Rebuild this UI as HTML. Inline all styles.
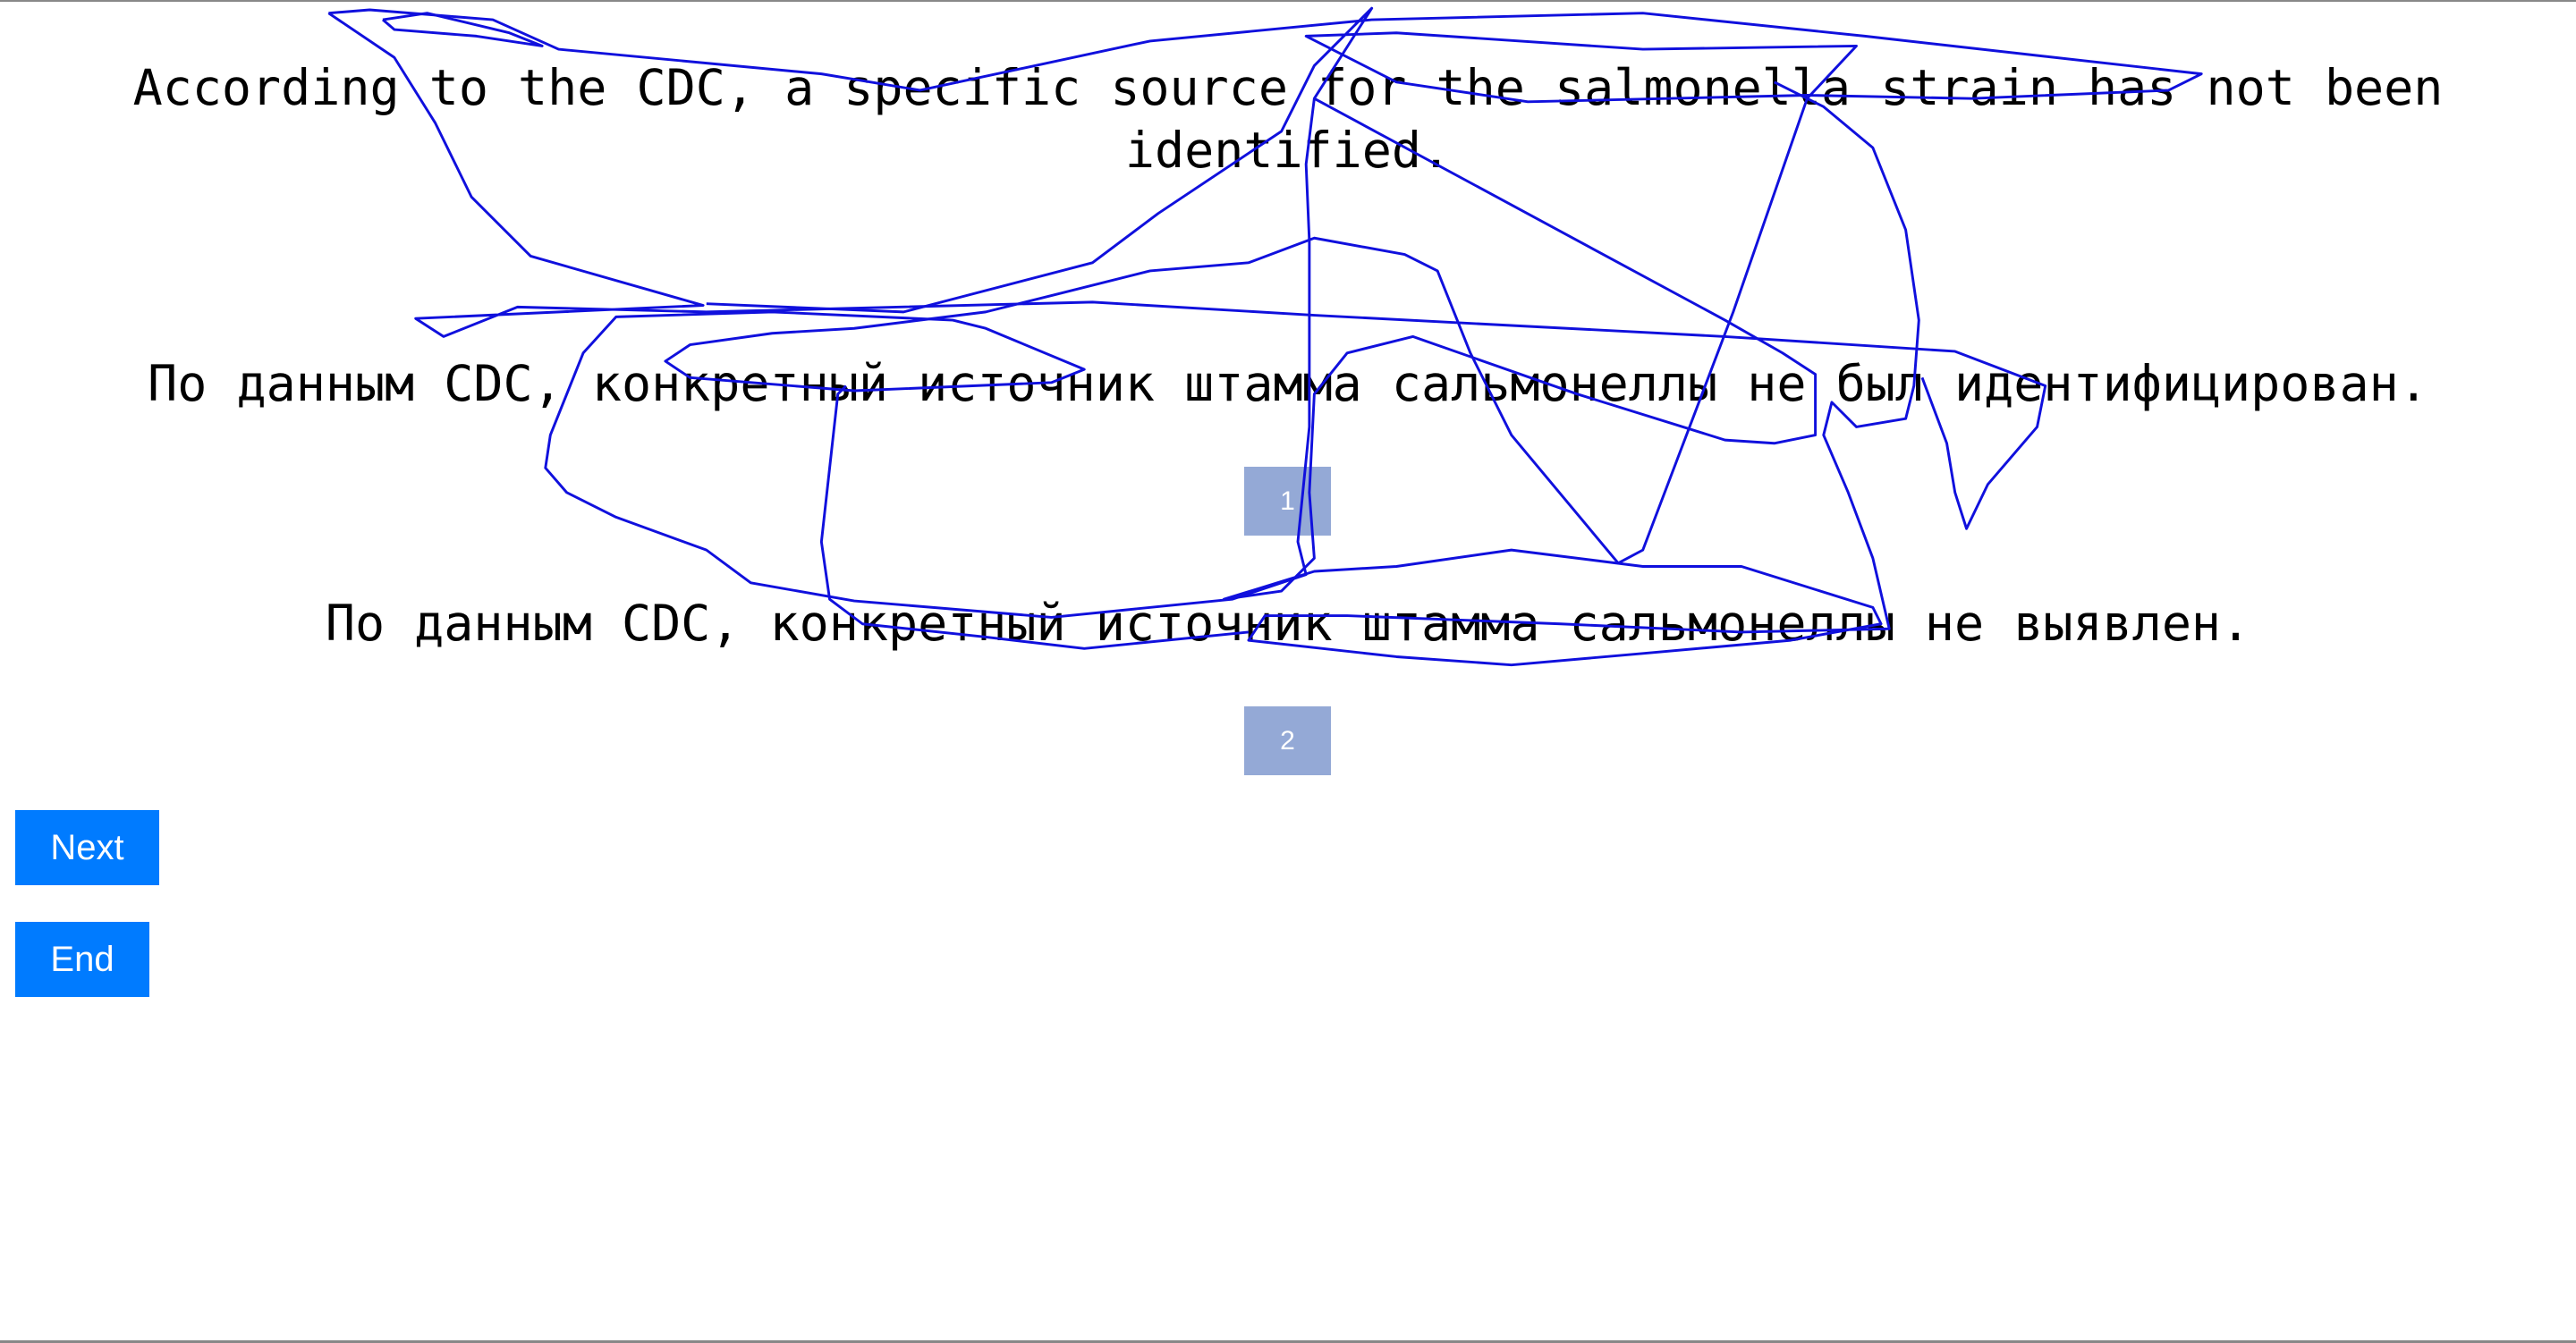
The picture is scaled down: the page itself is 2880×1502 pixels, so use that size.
<!DOCTYPE html>
<html><head><meta charset="utf-8"><style>
html,body{margin:0;padding:0;}
body{width:2880px;height:1502px;position:relative;background:#fff;overflow:hidden;font-family:"DejaVu Sans Mono","Liberation Mono",monospace;}
.t{position:absolute;left:0;width:2880px;text-align:center;font-size:55px;color:#000;line-height:70px;white-space:nowrap;}
.box{position:absolute;left:1391px;width:97px;height:77px;background:#94a9d6;color:#fff;font-family:"Liberation Sans",sans-serif;font-size:30px;display:flex;align-items:center;justify-content:center;}
.btn{position:absolute;left:17px;height:84px;background:#007bff;color:#fff;font-family:"Liberation Sans",sans-serif;font-size:40px;display:flex;align-items:center;justify-content:center;}
</style></head><body>
<div style="position:absolute;left:0;top:0;width:2880px;height:2px;background:#888"></div>
<div style="position:absolute;left:0;top:1499px;width:2880px;height:3px;background:#888"></div>
<div class="t" style="top:63px">According to the CDC, a specific source for the salmonella strain has not been</div>
<div class="t" style="top:133px">identified.</div>
<div class="t" style="top:394px">По данным CDC, конкретный источник штамма сальмонеллы не был идентифицирован.</div>
<div class="box" style="top:522px">1</div>
<div class="t" style="top:662px">По данным CDC, конкретный источник штамма сальмонеллы не выявлен.</div>
<div class="box" style="top:790px">2</div>
<div class="btn" style="top:906px;width:161px">Next</div>
<div class="btn" style="top:1031px;width:150px">End</div>
<svg style="position:absolute;left:0;top:0" width="2880" height="1502" viewBox="0 0 1568 818" preserveAspectRatio="none">
<g fill="none" stroke="#1010dd" stroke-width="1.6" stroke-linejoin="round">
<polyline points="200,8 225,6 300,12 340,30 500,45 560,55 700,25 835,12 1000,8 1135,22 1340,45 1320,55 1200,60 1100,58 930,62 850,50 795,22 850,20 1000,30 1130,28 1100,60 1055,190 1000,335 985,343 920,265 895,215 875,165 855,155 800,145 760,160 700,165 640,180 600,190 520,200 470,203 420,210 405,220 420,230 520,238 640,233 660,225 600,200 580,195 470,190 375,193 355,215 335,265 332,285 345,300 375,315 430,335 457,355 520,366 640,376 750,365 795,350 790,330 797,260 797,147 795,100 800,60 835,5 800,40 780,80 705,130 665,160 550,190 430,185"/>
<polyline points="200,8 240,35 265,75 287,120 323,156 428,186 253,194 270,205 315,187 430,190 665,184 800,192 1050,205 1190,214 1245,235 1240,260 1210,295 1197,322 1190,300 1185,270 1170,230"/>
<polyline points="800,60 1050,195 1085,215 1105,228 1105,265 1080,270 1050,268 960,240 860,205 820,215 800,240 797,300 800,340 780,360 745,365 800,348 850,345 920,335 1000,345 1060,345 1140,370 1145,380 1090,390 1000,398 920,405 850,400 760,390 770,375 820,375 950,380 1060,385 1150,383 1140,340 1125,300 1110,265 1115,245 1130,260 1160,255 1165,235 1168,195 1160,140 1140,90 1110,65 1080,50"/>
<polyline points="515,235 510,240 500,330 505,365 525,380 600,388 660,395 760,385"/>
<polyline points="233,12 260,8 310,20 330,28 290,22 240,18 233,12"/>
</g></svg>
</body></html>
